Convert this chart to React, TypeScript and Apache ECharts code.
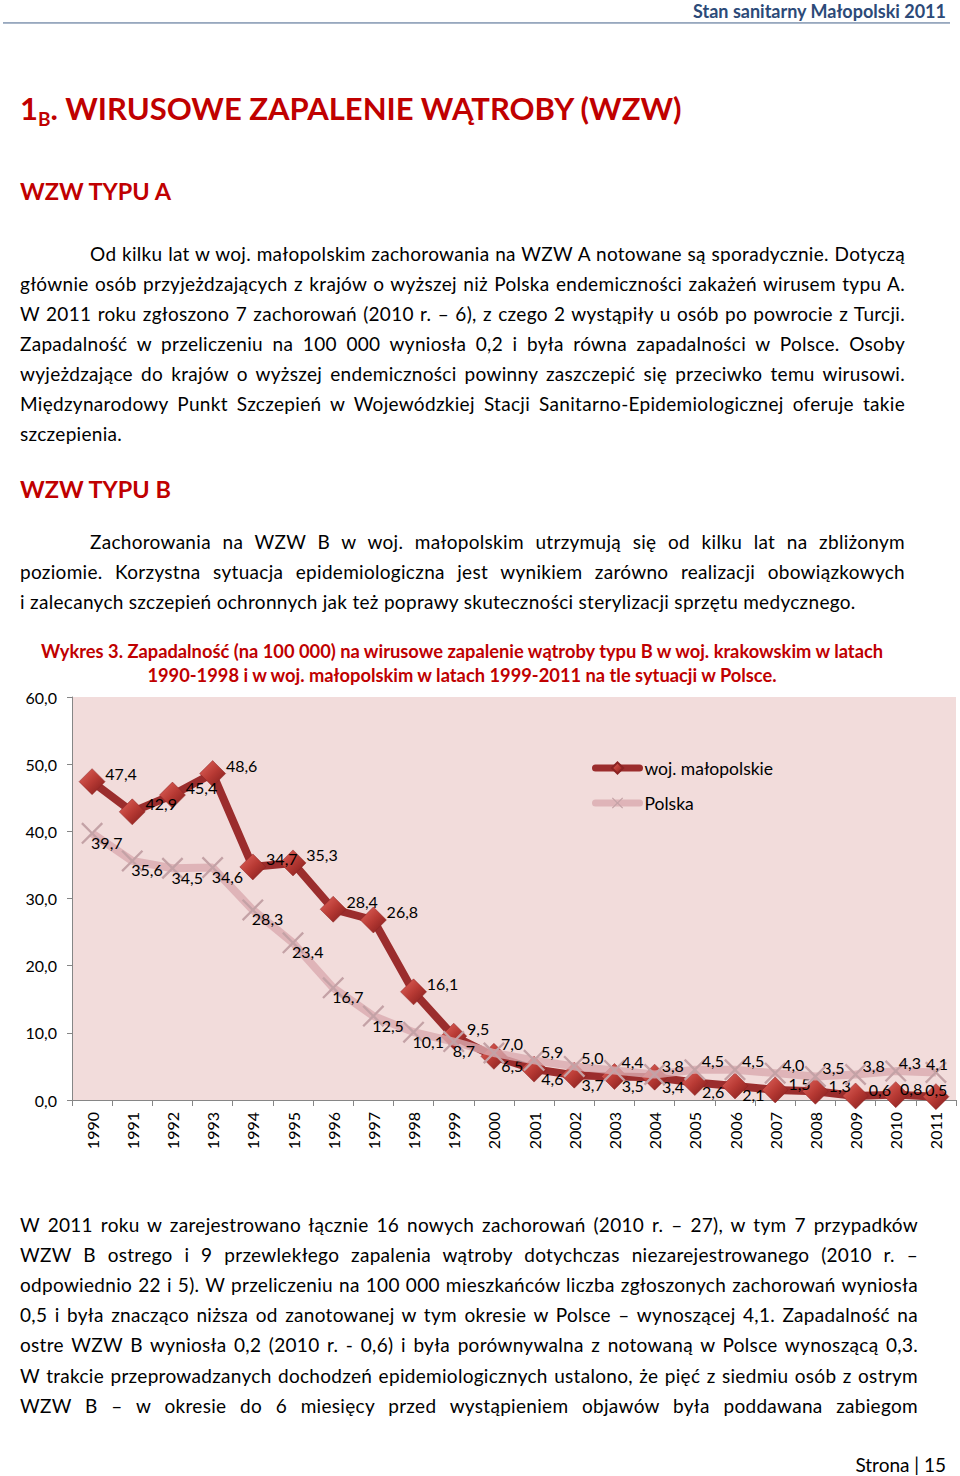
import React, { useEffect, useRef } from "react";
import * as echarts from "echarts";

const years = ["1990","1991","1992","1993","1994","1995","1996","1997","1998","1999","2000","2001","2002","2003","2004","2005","2006","2007","2008","2009","2010","2011"];
const malopolskie = [47.4, 42.9, 45.4, 48.6, 34.7, 35.3, 28.4, 26.8, 16.1, 9.5, 6.5, 4.6, 3.7, 3.5, 3.4, 2.6, 2.1, 1.5, 1.3, 0.6, 0.8, 0.5];
const polska = [39.7, 35.6, 34.5, 34.6, 28.3, 23.4, 16.7, 12.5, 10.1, 8.7, 7.0, 5.9, 5.0, 4.4, 3.8, 4.5, 4.5, 4.0, 3.5, 3.8, 4.3, 4.1];
const seriesNames = ["woj. małopolskie", "Polska"];
const yTicks = { min: 0, max: 60, interval: 10 };
const chartTitle1 = "Wykres 3. Zapadalność (na 100 000) na wirusowe zapalenie wątroby typu B w woj. krakowskim w latach";
const chartTitle2 = "1990-1998 i w woj. małopolskim w latach 1999-2011 na tle sytuacji w Polsce.";

const FONT = "Lato, 'Open Sans', sans-serif";
const RED = "#c00000";

type Line = { t: string; y: number; x?: number; r?: number; j?: boolean };

const paraA: Line[] = [
  { t: "Od kilku lat w woj. małopolskim zachorowania na WZW A notowane są sporadycznie. Dotyczą", y: 254, x: 90, r: 905, j: true },
  { t: "głównie osób przyjeżdzających z krajów o wyższej niż Polska endemiczności zakażeń wirusem typu A.", y: 284, r: 905, j: true },
  { t: "W 2011 roku zgłoszono 7 zachorowań (2010 r. – 6), z czego 2 wystąpiły u osób po powrocie z Turcji.", y: 314, r: 905, j: true },
  { t: "Zapadalność w przeliczeniu na 100 000 wyniosła 0,2 i była równa zapadalności w Polsce. Osoby", y: 344, r: 905, j: true },
  { t: "wyjeżdzające do krajów o wyższej endemiczności powinny zaszczepić się przeciwko temu wirusowi.", y: 374, r: 905, j: true },
  { t: "Międzynarodowy Punkt Szczepień w Wojewódzkiej Stacji Sanitarno-Epidemiologicznej oferuje takie", y: 404, r: 905, j: true },
  { t: "szczepienia.", y: 434 },
];
const paraB: Line[] = [
  { t: "Zachorowania na WZW B w woj. małopolskim utrzymują się od kilku lat na zbliżonym", y: 542, x: 90, r: 905, j: true },
  { t: "poziomie. Korzystna sytuacja epidemiologiczna jest wynikiem zarówno realizacji obowiązkowych", y: 572, r: 905, j: true },
  { t: "i zalecanych szczepień ochronnych jak też poprawy skuteczności sterylizacji sprzętu medycznego.", y: 602 },
];
const paraC: Line[] = [
  { t: "W 2011 roku w zarejestrowano łącznie 16 nowych zachorowań (2010 r. – 27), w tym 7 przypadków", y: 1225, r: 918, j: true },
  { t: "WZW B ostrego i 9 przewlekłego zapalenia wątroby dotychczas niezarejestrowanego (2010 r. –", y: 1255, r: 918, j: true },
  { t: "odpowiednio 22 i 5). W przeliczeniu na 100 000 mieszkańców liczba zgłoszonych zachorowań wyniosła", y: 1285, r: 918, j: true },
  { t: "0,5 i była znacząco niższa od zanotowanej w tym okresie w Polsce – wynoszącej 4,1. Zapadalność na", y: 1315, r: 918, j: true },
  { t: "ostre WZW B wyniosła 0,2 (2010 r. - 0,6) i była porównywalna z notowaną w Polsce wynoszącą 0,3.", y: 1345, r: 918, j: true },
  { t: "W trakcie przeprowadzanych dochodzeń epidemiologicznych ustalono, że pięć z siedmiu osób z ostrym", y: 1376, r: 918, j: true },
  { t: "WZW B – w okresie do 6 miesięcy przed wystąpieniem objawów była poddawana zabiegom", y: 1406, r: 918, j: true },
];

const fmt = (v: number) => v.toFixed(1).replace(".", ",");

function TextLines({ lines }: { lines: Line[] }) {
  return (
    <>
      {lines.map((l, i) => {
        const left = l.x ?? 20;
        const style: React.CSSProperties = {
          position: "absolute",
          left,
          top: l.y - 15,
          lineHeight: "30px",
          height: 30,
          fontSize: 19,
          letterSpacing: "0.3px",
          color: "#000",
          whiteSpace: "nowrap",
        };
        if (l.j && l.r) {
          style.width = l.r - left;
          style.textAlign = "justify";
          (style as any).textAlignLast = "justify";
        }
        return (
          <div key={i} style={style}>
            {l.t}
          </div>
        );
      })}
    </>
  );
}

function Chart() {
  const ref = useRef<HTMLDivElement>(null);
  useEffect(() => {
    if (!ref.current) return;
    const chart = echarts.init(ref.current, null, { renderer: "svg" });
    const last = years.length - 1;
    const redAbove = (i: number) => malopolskie[i] >= polska[i] || malopolskie[i] < 2;
    const polBelow = (i: number) => polska[i] < malopolskie[i];
    const xPath = "path://M0,1.5 L1.5,0 L10,8.5 L18.5,0 L20,1.5 L11.5,10 L20,18.5 L18.5,20 L10,11.5 L1.5,20 L0,18.5 L8.5,10 Z";
    const diamondFill = new echarts.graphic.LinearGradient(0, 0, 1, 1, [
      { offset: 0, color: "#e2665e" },
      { offset: 0.5, color: "#b83a34" },
      { offset: 1, color: "#7e1a1a" },
    ]);
    const labelBase = {
      show: true,
      position: "right",
      distance: 0,
      color: "#000",
      fontSize: 16,
      fontFamily: FONT,
      formatter: (p: any) => fmt(p.value),
    };
    const redOffset = (i: number) => {
      if (i === last) return [-24, -7];
      if (i === last - 1) return [-9, -6];
      if (!redAbove(i)) return [-6, 9];
      return malopolskie[i] < 2 ? [0, -6] : [0, -8];
    };
    const polOffset = (i: number) => {
      if (i === last) return [-21, -9];
      if (i === last - 1) return [-8, -9];
      return polBelow(i) ? [-12, 9] : [-4, -9];
    };
    chart.setOption({
      animation: false,
      graphic: [
        { type: "text", x: 462, y: 21, style: { text: chartTitle1, fill: RED, font: `bold 18.3px ${FONT}`, textAlign: "center", textVerticalAlign: "middle" } },
        { type: "text", x: 462, y: 45, style: { text: chartTitle2, fill: RED, font: `bold 18.3px ${FONT}`, textAlign: "center", textVerticalAlign: "middle" } },
      ],
      grid: { left: 72, top: 67, width: 884, height: 403, show: true, backgroundColor: "#f2dcdb", borderWidth: 0 },
      legend: {
        data: seriesNames,
        orient: "vertical",
        left: 592,
        top: 129,
        padding: 0,
        itemWidth: 44,
        itemHeight: 14,
        itemGap: 17,
        lineStyle: { width: 7, cap: "round" },
        textStyle: { fontSize: 17.5, color: "#000", fontFamily: FONT },
      },
      xAxis: {
        type: "category",
        data: years,
        boundaryGap: true,
        axisLine: { lineStyle: { color: "#868686", width: 1 } },
        axisTick: { show: true, length: 6, interval: 0, lineStyle: { color: "#868686" } },
        axisLabel: { rotate: 90, margin: 12, fontSize: 16, color: "#000", fontFamily: FONT, interval: 0 },
      },
      yAxis: {
        type: "value",
        min: yTicks.min,
        max: yTicks.max,
        interval: yTicks.interval,
        splitLine: { show: false },
        axisLine: { show: true, lineStyle: { color: "#868686", width: 1 } },
        axisTick: { show: true, length: 5, lineStyle: { color: "#868686" } },
        axisLabel: { margin: 15, fontSize: 16, color: "#000", fontFamily: FONT, formatter: (v: number) => fmt(v) },
      },
      series: [
        {
          name: seriesNames[0],
          type: "line",
          symbol: "diamond",
          symbolSize: 26,
          lineStyle: { color: "#9b2d2d", width: 8 },
          itemStyle: { color: diamondFill, borderColor: "#8a2222", borderWidth: 0.5 },
          data: malopolskie.map((v, i) => ({
            value: v,
            label: { ...labelBase, offset: redOffset(i) },
          })),
          z: 2,
        },
        {
          name: seriesNames[1],
          type: "line",
          symbol: xPath,
          symbolSize: 22,
          lineStyle: { color: "rgba(218,170,175,0.8)", width: 8 },
          itemStyle: { color: "#c4a2a6" },
          data: polska.map((v, i) => ({
            value: v,
            label: { ...labelBase, offset: polOffset(i) },
          })),
          z: 3,
        },
      ],
    });
    return () => chart.dispose();
  }, []);
  return <div ref={ref} style={{ position: "absolute", left: 0, top: 630, width: 960, height: 540 }} />;
}

export default function App() {
  return (
    <div style={{ position: "absolute", left: 0, top: 0, width: 960, height: 1476, background: "#fff", overflow: "hidden", fontFamily: FONT, color: "#000" }}>
      <div style={{ position: "absolute", right: 14, top: 0, height: 22, lineHeight: "22px", fontSize: 18, fontWeight: 700, color: "#2c4a78" }}>
        Stan sanitarny Małopolski 2011
      </div>
      <div style={{ position: "absolute", left: 3, top: 22, width: 947, height: 2, background: "linear-gradient(#8ea0b8,#b4c0d0)" }} />
      <div style={{ position: "absolute", left: 20, top: 88, height: 40, lineHeight: "40px", fontSize: 31, fontWeight: 700, color: RED, whiteSpace: "nowrap" }}>
        1<sub style={{ fontSize: 19, verticalAlign: "-6px" }}>B</sub>. WIRUSOWE ZAPALENIE WĄTROBY (WZW)
      </div>
      <div style={{ position: "absolute", left: 20, top: 176, height: 30, lineHeight: "30px", fontSize: 23.5, fontWeight: 700, color: RED }}>
        WZW TYPU A
      </div>
      <TextLines lines={paraA} />
      <div style={{ position: "absolute", left: 20, top: 474, height: 30, lineHeight: "30px", fontSize: 23.5, fontWeight: 700, color: RED }}>
        WZW TYPU B
      </div>
      <TextLines lines={paraB} />
      <Chart />
      <TextLines lines={paraC} />
      <div style={{ position: "absolute", right: 14, top: 1452, height: 26, lineHeight: "26px", fontSize: 19, color: "#000" }}>
        Strona | 15
      </div>
    </div>
  );
}
